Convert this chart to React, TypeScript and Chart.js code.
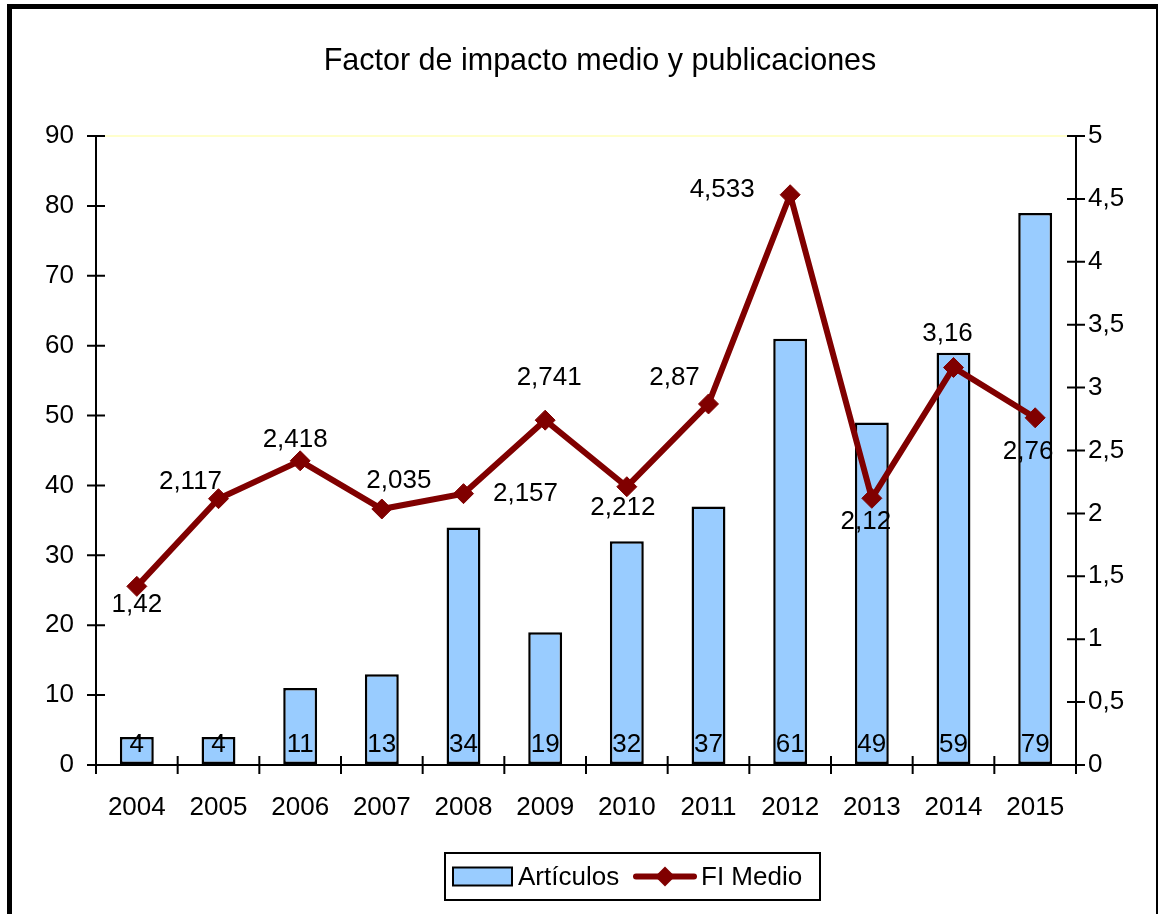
import React, { useEffect, useRef } from "react";
import { Chart, registerables } from "chart.js";

Chart.register(...registerables);

const title = "Factor de impacto medio y publicaciones";
const categories = ["2004", "2005", "2006", "2007", "2008", "2009", "2010", "2011", "2012", "2013", "2014", "2015"];
const articulos = [4, 4, 11, 13, 34, 19, 32, 37, 61, 49, 59, 79];
const fiMedio = [1.42, 2.117, 2.418, 2.035, 2.157, 2.741, 2.212, 2.87, 4.533, 2.12, 3.16, 2.76];
const seriesNames = ["Artículos", "FI Medio"];
// label placement offsets (style only) relative to each FI point
const fiLabelOffsets = [
  [0, 18], [-28, -17], [-5, -21], [17, -28], [62, 0], [4, -42],
  [-4, 21], [-34, -26], [-68, -5], [-6, 24], [-6, -34], [-7, 34],
];

const FONT = "'Liberation Sans', Arial, Helvetica, sans-serif";
const FS = 26;
const BAR_COLOR = "#99ccff";
const LINE_COLOR = "#800000";
const fmt = (v: number) => String(v).replace(".", ",");

const overlay = {
  id: "overlay",
  afterDraw(chart: any) {
    const ctx = chart.ctx as CanvasRenderingContext2D;
    const ca = chart.chartArea;
    const y = chart.scales.y;
    const y1 = chart.scales.y1;
    ctx.save();
    ctx.strokeStyle = "#000";
    ctx.lineWidth = 2;
    // axes
    ctx.beginPath();
    ctx.moveTo(ca.left, ca.top);
    ctx.lineTo(ca.left, ca.bottom);
    ctx.moveTo(ca.right, ca.top);
    ctx.lineTo(ca.right, ca.bottom);
    ctx.moveTo(ca.left, ca.bottom);
    ctx.lineTo(ca.right, ca.bottom);
    ctx.stroke();
    // ticks
    ctx.beginPath();
    y.ticks.forEach((t: any) => {
      const py = y.getPixelForValue(t.value);
      ctx.moveTo(ca.left - 9, py);
      ctx.lineTo(ca.left + 9, py);
    });
    y1.ticks.forEach((t: any) => {
      const py = y1.getPixelForValue(t.value);
      ctx.moveTo(ca.right - 9, py);
      ctx.lineTo(ca.right + 9, py);
    });
    const n = categories.length;
    const w = (ca.right - ca.left) / n;
    for (let i = 0; i <= n; i++) {
      const px = ca.left + i * w;
      ctx.moveTo(px, ca.bottom - 9);
      ctx.lineTo(px, ca.bottom + 9);
    }
    ctx.stroke();

    // bar labels
    ctx.fillStyle = "#000";
    ctx.font = `${FS}px ${FONT}`;
    ctx.textAlign = "center";
    ctx.textBaseline = "middle";
    const barMeta = chart.getDatasetMeta(0);
    barMeta.data.forEach((el: any, i: number) => {
      ctx.fillText(String(articulos[i]), el.x, y.getPixelForValue(0) - 20);
    });
    // line labels
    const lineMeta = chart.getDatasetMeta(1);
    lineMeta.data.forEach((el: any, i: number) => {
      const [dx, dy] = fiLabelOffsets[i];
      ctx.fillText(fmt(fiMedio[i]), el.x + dx, el.y + dy);
    });

    // title
    ctx.font = `30.5px ${FONT}`;
    ctx.fillText(title, 600, 62);

    // legend
    const lx0 = 445, lx1 = 820, ly0 = 853, ly1 = 900;
    const lc = (ly0 + ly1) / 2;
    ctx.fillStyle = "#fff";
    ctx.fillRect(lx0, ly0, lx1 - lx0, ly1 - ly0);
    ctx.strokeStyle = "#000";
    ctx.lineWidth = 2;
    ctx.strokeRect(lx0, ly0, lx1 - lx0, ly1 - ly0);
    ctx.fillStyle = BAR_COLOR;
    ctx.fillRect(453, lc - 9, 59, 18);
    ctx.strokeRect(453, lc - 9, 59, 18);
    ctx.fillStyle = "#000";
    ctx.font = `${FS}px ${FONT}`;
    ctx.textAlign = "left";
    ctx.fillText(seriesNames[0], 518, lc + 1);
    ctx.strokeStyle = LINE_COLOR;
    ctx.lineWidth = 6;
    ctx.lineCap = "round";
    ctx.beginPath();
    ctx.moveTo(636, lc);
    ctx.lineTo(694, lc);
    ctx.stroke();
    ctx.fillStyle = LINE_COLOR;
    ctx.beginPath();
    ctx.moveTo(665, lc - 10);
    ctx.lineTo(675, lc);
    ctx.lineTo(665, lc + 10);
    ctx.lineTo(655, lc);
    ctx.closePath();
    ctx.fill();
    ctx.fillStyle = "#000";
    ctx.fillText(seriesNames[1], 701, lc + 1);

    // outer frame
    ctx.fillRect(7, 4, 1151, 5);
    ctx.fillRect(7, 4, 5, 910);
    ctx.fillRect(1156, 4, 2, 910);
    ctx.restore();
  },
};

export default function App() {
  const ref = useRef<HTMLCanvasElement>(null);
  useEffect(() => {
    if (!ref.current) return;
    Chart.defaults.font.family = FONT;
    const chart = new Chart(ref.current, {
      type: "bar",
      data: {
        labels: categories,
        datasets: [
          {
            type: "bar",
            label: seriesNames[0],
            data: articulos,
            backgroundColor: BAR_COLOR,
            borderColor: "#000",
            borderWidth: 2.5,
            borderSkipped: false,
            categoryPercentage: 1,
            barPercentage: 0.415,
            yAxisID: "y",
            order: 1,
          } as any,
          {
            type: "line",
            label: seriesNames[1],
            data: fiMedio,
            borderColor: LINE_COLOR,
            borderWidth: 6,
            pointStyle: "rectRot",
            pointRadius: 10,
            pointBackgroundColor: LINE_COLOR,
            pointBorderColor: LINE_COLOR,
            pointBorderWidth: 1,
            tension: 0,
            yAxisID: "y1",
            order: 0,
          } as any,
        ],
      },
      plugins: [overlay],
      options: {
        responsive: false,
        animation: false,
        layout: { padding: { top: 136, left: 0, right: 0, bottom: 0 } },
        plugins: { legend: { display: false }, title: { display: false }, tooltip: { enabled: false } },
        scales: {
          x: {
            offset: true,
            grid: { display: false },
            border: { display: false },
            ticks: { color: "#000", font: { size: FS }, padding: 19, maxRotation: 0 },
            afterFit: (s: any) => { s.height = 149; },
          },
          y: {
            position: "left",
            min: 0,
            max: 90,
            ticks: { stepSize: 10, color: "#000", font: { size: FS }, padding: 22 },
            grid: {
              drawTicks: false,
              lineWidth: 2,
              color: (c: any) => (c.tick && c.tick.value === 90 ? "#ffffcc" : "rgba(0,0,0,0)"),
            },
            border: { display: false },
            afterFit: (s: any) => { s.width = 96; },
          },
          y1: {
            position: "right",
            min: 0,
            max: 5,
            ticks: { stepSize: 0.5, color: "#000", font: { size: FS }, padding: 12, callback: (v: any) => fmt(Number(v)) },
            grid: { display: false, drawTicks: false },
            border: { display: false },
            afterFit: (s: any) => { s.width = 82; },
          },
        },
      },
    });
    return () => chart.destroy();
  }, []);
  return (
    <div style={{ position: "fixed", left: 0, top: 0, width: 1158, height: 914, background: "#fff" }}>
      <canvas ref={ref} width={1158} height={914} style={{ width: 1158, height: 914, display: "block" }} />
    </div>
  );
}
